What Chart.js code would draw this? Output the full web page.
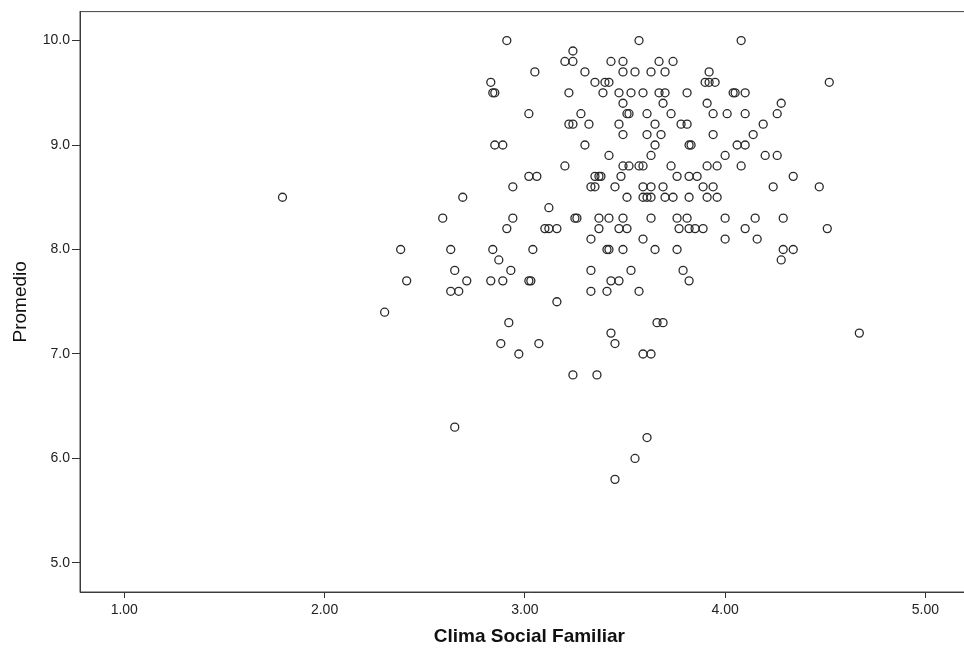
<!DOCTYPE html>
<html>
<head>
<meta charset="utf-8">
<script src="https://cdn.jsdelivr.net/npm/chart.js@4.4.1/dist/chart.umd.min.js"></script>
<style>
  html, body { margin: 0; padding: 0; background: #fff; overflow: hidden; }
  #wrap { width: 984px; height: 648px; }
</style>
</head>
<body>
<div id="wrap"><canvas id="scatter" width="984" height="648"></canvas></div>
<script>
// Clima Social Familiar (x) and Promedio (y), one entry per student
const climaSocial = [
    1.79, 2.69, 2.59, 2.38, 2.63, 2.65, 2.71, 2.41, 2.63, 2.67, 2.30, 2.65,
    2.91, 3.57, 3.24, 3.20, 3.24, 3.43, 3.49, 3.67, 3.05, 3.30, 3.49, 3.55,
    3.63, 3.70, 2.83, 2.84, 2.85, 3.35, 3.40, 3.42, 3.22, 3.39, 3.47, 3.53,
    3.59, 3.67, 3.70, 3.49, 3.69, 3.02, 3.28, 3.51, 3.52, 3.61, 3.22, 3.24,
    3.32, 3.47, 3.65, 3.49, 3.61, 3.68, 2.85, 2.89, 3.30, 3.65, 3.42, 3.63,
    3.20, 3.49, 3.52, 3.57, 3.59, 3.73, 3.02, 3.06, 3.35, 3.37, 3.38, 3.48,
    4.08, 3.74, 3.92, 3.90, 3.92, 3.95, 4.52, 3.81, 4.04, 4.05, 4.10, 3.91,
    4.28, 3.73, 3.94, 4.01, 4.10, 4.26, 3.78, 3.81, 4.19, 3.94, 4.14, 3.82,
    3.83, 4.06, 4.10, 4.00, 4.20, 4.26, 3.91, 3.96, 4.08, 3.76, 3.82, 3.86,
    4.34, 2.94, 3.33, 3.35, 3.45, 3.59, 3.63, 3.69, 3.51, 3.59, 3.61, 3.63,
    3.70, 3.12, 2.94, 3.25, 3.26, 3.37, 3.42, 3.49, 3.63, 2.91, 3.10, 3.12,
    3.16, 3.37, 3.47, 3.51, 3.33, 3.59, 2.84, 3.04, 3.41, 3.42, 3.49, 3.65,
    2.87, 2.93, 3.33, 3.53, 2.83, 2.89, 3.02, 3.03, 3.43, 3.47, 3.33, 3.41,
    3.57, 3.16, 2.92, 3.66, 3.69, 3.43, 2.88, 3.07, 3.45, 2.97, 3.59, 3.63,
    3.24, 3.36, 3.61, 3.55, 3.45, 3.89, 3.94, 4.24, 4.47, 3.74, 3.82, 3.91,
    3.96, 3.76, 3.81, 4.00, 4.15, 4.29, 3.77, 3.82, 3.85, 3.89, 4.10, 4.51,
    4.00, 4.16, 3.76, 4.29, 4.34, 4.28, 3.79, 3.82, 4.67
];
const promedio = [
    8.5, 8.5, 8.3, 8.0, 8.0, 7.8, 7.7, 7.7, 7.6, 7.6, 7.4, 6.3,
    10.0, 10.0, 9.9, 9.8, 9.8, 9.8, 9.8, 9.8, 9.7, 9.7, 9.7, 9.7,
    9.7, 9.7, 9.6, 9.5, 9.5, 9.6, 9.6, 9.6, 9.5, 9.5, 9.5, 9.5,
    9.5, 9.5, 9.5, 9.4, 9.4, 9.3, 9.3, 9.3, 9.3, 9.3, 9.2, 9.2,
    9.2, 9.2, 9.2, 9.1, 9.1, 9.1, 9.0, 9.0, 9.0, 9.0, 8.9, 8.9,
    8.8, 8.8, 8.8, 8.8, 8.8, 8.8, 8.7, 8.7, 8.7, 8.7, 8.7, 8.7,
    10.0, 9.8, 9.7, 9.6, 9.6, 9.6, 9.6, 9.5, 9.5, 9.5, 9.5, 9.4,
    9.4, 9.3, 9.3, 9.3, 9.3, 9.3, 9.2, 9.2, 9.2, 9.1, 9.1, 9.0,
    9.0, 9.0, 9.0, 8.9, 8.9, 8.9, 8.8, 8.8, 8.8, 8.7, 8.7, 8.7,
    8.7, 8.6, 8.6, 8.6, 8.6, 8.6, 8.6, 8.6, 8.5, 8.5, 8.5, 8.5,
    8.5, 8.4, 8.3, 8.3, 8.3, 8.3, 8.3, 8.3, 8.3, 8.2, 8.2, 8.2,
    8.2, 8.2, 8.2, 8.2, 8.1, 8.1, 8.0, 8.0, 8.0, 8.0, 8.0, 8.0,
    7.9, 7.8, 7.8, 7.8, 7.7, 7.7, 7.7, 7.7, 7.7, 7.7, 7.6, 7.6,
    7.6, 7.5, 7.3, 7.3, 7.3, 7.2, 7.1, 7.1, 7.1, 7.0, 7.0, 7.0,
    6.8, 6.8, 6.2, 6.0, 5.8, 8.6, 8.6, 8.6, 8.6, 8.5, 8.5, 8.5,
    8.5, 8.3, 8.3, 8.3, 8.3, 8.3, 8.2, 8.2, 8.2, 8.2, 8.2, 8.2,
    8.1, 8.1, 8.0, 8.0, 8.0, 7.9, 7.8, 7.7, 7.2
];
const xTicks = [1, 2, 3, 4, 5];
const yTicks = [5, 6, 7, 8, 9, 10];

const fontFamily = "'Liberation Sans', Arial, sans-serif";

// box round the plot area, like the SPSS frame
const framePlugin = {
    id: "frame",
    beforeDatasetsDraw(chart) {
        const { ctx, chartArea: a } = chart;
        ctx.save();
        ctx.strokeStyle = "#444";
        ctx.lineWidth = 1;
        ctx.strokeRect(a.left, a.top, a.right - a.left, a.bottom - a.top);
        ctx.restore();
    }
};

let ctx = document.getElementById("scatter").getContext("2d");
let scatterChart = new Chart(ctx, {
    type: "scatter",
    data: {
        datasets: [{
            data: climaSocial.map((x, i) => ({ x: x, y: promedio[i] })),
            pointStyle: "circle",
            pointRadius: 4,
            pointHoverRadius: 4,
            borderWidth: 1.3,
            borderColor: "#2a2a2a",
            backgroundColor: "rgba(0,0,0,0)"
        }]
    },
    options: {
        responsive: false,
        animation: false,
        events: [],
        layout: { padding: { top: 11.6, right: 2, left: 0, bottom: 0 } },
        plugins: {
            legend: { display: false },
            tooltip: { enabled: false }
        },
        scales: {
            x: {
                type: "linear",
                min: 0.779,
                max: 5.266,
                afterBuildTicks: s => { s.ticks = xTicks.map(v => ({ value: v })); },
                afterFit: s => { s.height = 56; },
                ticks: {
                    callback: v => Number(v).toFixed(2),
                    font: { family: fontFamily, size: 14 },
                    color: "#222",
                    padding: 4,
                    maxRotation: 0,
                    autoSkip: false
                },
                grid: { drawOnChartArea: false, tickLength: 6, tickColor: "#333" },
                border: { color: "#333", width: 1 },
                title: {
                    display: true,
                    text: "Clima Social Familiar",
                    font: { family: fontFamily, size: 19, weight: "bold" },
                    color: "#111",
                    padding: { top: 0, bottom: 0 }
                }
            },
            y: {
                type: "linear",
                min: 4.722,
                max: 10.277,
                afterBuildTicks: s => { s.ticks = yTicks.map(v => ({ value: v })); },
                afterFit: s => { s.width = 80; },
                ticks: {
                    callback: v => Number(v).toFixed(1),
                    font: { family: fontFamily, size: 14 },
                    color: "#222",
                    padding: 2,
                    autoSkip: false
                },
                grid: { drawOnChartArea: false, tickLength: 8, tickColor: "#333" },
                border: { color: "#333", width: 1 },
                title: {
                    display: true,
                    text: "Promedio",
                    font: { family: fontFamily, size: 19 },
                    color: "#111",
                    padding: { top: 9.6, bottom: 0 }
                }
            }
        }
    },
    plugins: [framePlugin]
});
</script>
</body>
</html>
